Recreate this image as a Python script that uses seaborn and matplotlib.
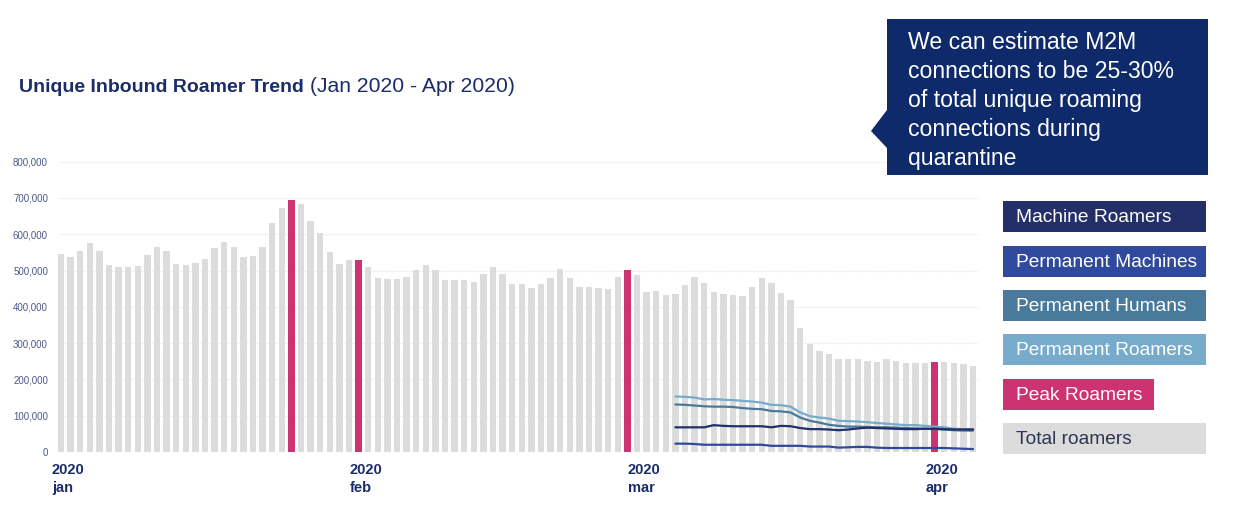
import matplotlib.pyplot as plt
import matplotlib.patches as mpatches
import pandas as pd
import seaborn as sns

sns.set_style("white")
plt.rcParams["font.family"] = ["Liberation Sans", "DejaVu Sans"]

# --- DATA (daily, 1 Jan 2020 .. 5 Apr 2020) ---
total_roamers = [
    545, 537, 554, 576, 554, 515, 509, 509, 512, 543,
    566, 554, 519, 515, 521, 531, 561, 578, 566, 537,
    540, 564, 630, 672, 694, 684, 636, 604, 552, 519,
    528, 530, 509, 480, 476, 476, 483, 501, 515, 501,
    474, 474, 474, 468, 491, 509, 491, 464, 462, 452,
    462, 480, 504, 480, 455, 455, 452, 450, 483, 501,
    488, 440, 445, 432, 435, 460, 483, 465, 441, 435,
    432, 429, 456, 480, 465, 439, 420, 342, 298, 279,
    270, 257, 255, 255, 252, 248, 255, 252, 246, 246,
    246, 249, 248, 246, 243, 237,
]
peak_days = [24, 31, 59, 91]

line_start = 64
permanent_roamers = [
    153, 152, 150, 145, 146, 144, 143, 141, 139, 136, 130, 129, 125, 109, 99, 95,
    92, 86, 85, 84, 82, 80, 78, 76, 74, 74, 72, 70, 68, 64, 63, 63,
]
permanent_humans = [
    131, 130, 128, 126, 125, 125, 124, 121, 119, 118, 113, 112, 109, 95, 86, 81,
    75, 72, 70, 70, 69, 68, 68, 67, 66, 65, 64, 63, 62, 60, 59, 59,
]
machine_roamers = [
    68, 68, 68, 68, 74, 72, 71, 71, 71, 71, 68, 72, 71, 66, 63, 63,
    62, 60, 62, 65, 67, 66, 65, 64, 63, 63, 64, 64, 63, 62, 62, 62,
]
permanent_machines = [
    23, 23, 22, 20, 20, 20, 20, 20, 20, 20, 17, 17, 17, 17, 15, 15,
    15, 12, 13, 14, 14, 12, 11, 11, 11, 11, 11, 11, 11, 10, 9, 8,
]

month_ticks = [0, 31, 60, 91]
month_labels = ["2020\njan", "2020\nfeb", "2020\nmar", "2020\napr"]

COLORS = {
    "Machine Roamers": "#232f68",
    "Permanent Machines": "#2f4a9c",
    "Permanent Humans": "#4a7a9b",
    "Permanent Roamers": "#76abcc",
    "Peak Roamers": "#cc3370",
    "Total roamers": "#dcdcdc",
}
NAVY = "#1b2c6b"

bars = pd.DataFrame({"day": range(len(total_roamers)), "value": [v * 1000 for v in total_roamers]})
bars["kind"] = ["Peak Roamers" if d in peak_days else "Total roamers" for d in bars["day"]]

days = list(range(line_start, line_start + len(permanent_roamers)))
series = {
    "Permanent Roamers": permanent_roamers,
    "Permanent Humans": permanent_humans,
    "Machine Roamers": machine_roamers,
    "Permanent Machines": permanent_machines,
}

W, H = 1246, 518
fig = plt.figure(figsize=(W / 100, H / 100), dpi=100)
ax = fig.add_axes([57.7 / W, 1 - 452 / H, (978 - 57.7) / W, (452 - 161.7) / H])

sns.barplot(
    data=bars, x="day", y="value", hue="kind", dodge=False, width=0.68,
    saturation=1, linewidth=0,
    palette={k: COLORS[k] for k in ["Peak Roamers", "Total roamers"]},
    legend=False, ax=ax, zorder=2,
)
for name, vals in series.items():
    sns.lineplot(x=days, y=[v * 1000 for v in vals], color=COLORS[name],
                 linewidth=1.6, ax=ax, zorder=3)

ax.set_yticks(range(0, 800001, 100000))
ax.set_yticklabels([f"{v:,}" for v in range(0, 800001, 100000)], fontsize=7, color="#4b5a8c")
ax.yaxis.grid(True, color="#ececec", linewidth=0.8, linestyle=(0, (1, 0.5)), zorder=0)
ax.set_axisbelow(True)
ax.tick_params(axis="both", length=0)
ax.tick_params(axis="y", pad=7)
ax.set_xticks([])
ax.set_xlim(-0.34, 95.52)
ax.set_ylim(0, 800000)
ax.set_xlabel("")
ax.set_ylabel("")
sns.despine(ax=ax, left=True, bottom=True)

# month labels start a little left of the first bar of each month
for m, lab in zip(month_ticks, month_labels):
    ax.text(m - 0.95, -0.093, lab, transform=ax.get_xaxis_transform(), clip_on=False,
            fontsize=10.5, fontweight="bold", color=NAVY, ha="left", va="center",
            linespacing=1.35)

# title: bold part + regular part
t1 = fig.text(19 / W, 1 - 92 / H, "Unique Inbound Roamer Trend", fontsize=14,
              fontweight="bold", color=NAVY, va="baseline")
fig.canvas.draw()
bb = t1.get_window_extent(fig.canvas.get_renderer())
fig.text((bb.x1 + 6) / W, 1 - 92 / H, "(Jan 2020 - Apr 2020)", fontsize=15.2,
         color=NAVY, va="baseline")

# callout box
pts = [(887, 19), (1208, 19), (1208, 175), (887, 175), (887, 148), (871, 131), (887, 110)]
fig.patches.append(mpatches.Polygon([(x / W, 1 - y / H) for x, y in pts], closed=True,
                                    facecolor="#0f2a6b", edgecolor="none",
                                    transform=fig.transFigure, figure=fig))
fig.text(908 / W, 1 - 100.5 / H,
         "We can estimate M2M\nconnections to be 25-30%\nof total unique roaming\n"
         "connections during\nquarantine",
         fontsize=16.6, color="white", va="center", ha="left", linespacing=1.32)

# legend boxes
legend_items = [
    ("Machine Roamers", 201, 1206, "white"),
    ("Permanent Machines", 246, 1206, "white"),
    ("Permanent Humans", 290, 1206, "white"),
    ("Permanent Roamers", 334, 1206, "white"),
    ("Peak Roamers", 379, 1154, "white"),
    ("Total roamers", 423, 1206, "#2e3550"),
]
for name, top, right, tc in legend_items:
    fig.patches.append(mpatches.Rectangle((1003 / W, 1 - (top + 31) / H), (right - 1003) / W, 31 / H,
                                          facecolor=COLORS[name], edgecolor="none",
                                          transform=fig.transFigure, figure=fig))
    fig.text(1016 / W, 1 - (top + 16.5) / H, name, fontsize=13.8, color=tc, va="center", ha="left")

fig.savefig("out.png", dpi=100)
